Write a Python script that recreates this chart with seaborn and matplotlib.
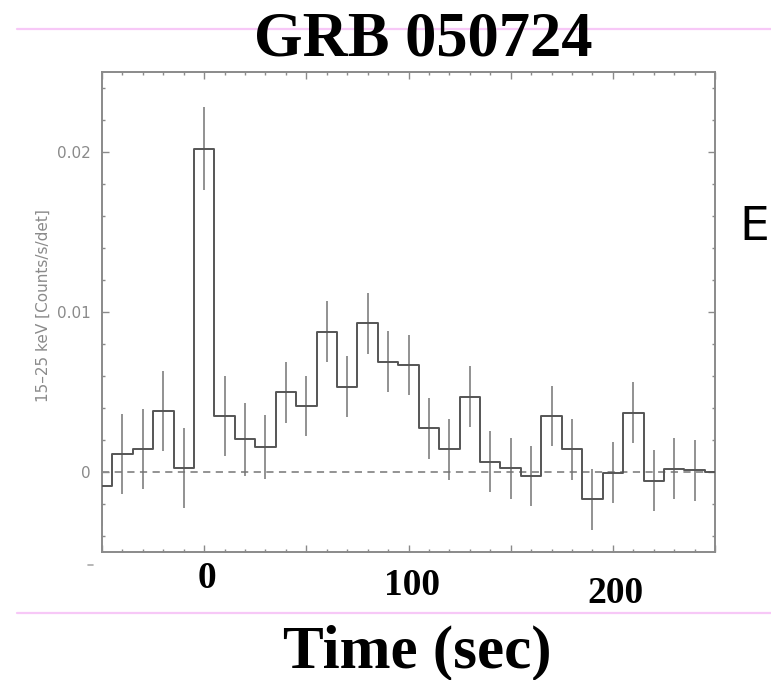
import numpy as np
import pandas as pd
import matplotlib
matplotlib.use("Agg")
import matplotlib.pyplot as plt
from matplotlib.lines import Line2D
from matplotlib.ticker import MultipleLocator
import seaborn as sns

# light curve bins (centre time, s), rate and 1-sigma error
time_bins = [-50, -40, -30, -20, -10, 0, 10, 20, 30, 40, 50, 60, 70, 80, 90, 100,
             110, 120, 130, 140, 150, 160, 170, 180, 190, 200, 210, 220, 230, 240, 250]
rate = [-0.00086, 0.0011, 0.00144, 0.00383, 0.00023, 0.0202, 0.0035, 0.00204, 0.00158,
        0.00498, 0.00413, 0.00877, 0.00533, 0.0093, 0.0069, 0.00669, 0.00273, 0.00142,
        0.0047, 0.00065, 0.00023, -0.00025, 0.0035, 0.00142, -0.0017, -0.00004, 0.0037,
        -0.00054, 0.0002, 0.0001, 0.0]
rate_err = [0.0025, 0.0025, 0.0025, 0.0025, 0.0025, 0.0026, 0.0025, 0.0023, 0.002,
            0.0019, 0.0019, 0.0019, 0.0019, 0.0019, 0.0019, 0.0019, 0.0019, 0.0019,
            0.0019, 0.0019, 0.0019, 0.0019, 0.0019, 0.0019, 0.0019, 0.0019, 0.0019,
            0.0019, 0.0019, 0.0019, 0.0019]

y_ticks = [0, 0.01, 0.02]
y_tick_labels = ["0", "0.01", "0.02"]
x_tick_values = [0, 100, 200]
x_tick_labels = ["0", "100", "200"]

df = pd.DataFrame({"time": time_bins, "rate": rate, "err": rate_err})

sns.set_theme(style="ticks")
plt.rcParams["font.family"] = ["DejaVu Sans"]

fig = plt.figure(figsize=(7.71, 6.8), dpi=100)
fig.patch.set_facecolor("white")
ax = fig.add_axes([0.1323, 0.1882, 0.7951, 0.7059])

grey = "#8a8a8a"
ax.axhline(0, color=grey, lw=1.3, ls=(0, (4, 3)), zorder=1)
ax.errorbar(df["time"], df["rate"], yerr=df["err"], fmt="none",
            ecolor="#747474", elinewidth=1.1, capsize=0, zorder=2)
sns.lineplot(data=df, x="time", y="rate", drawstyle="steps-mid",
             color="#555555", lw=1.4, ax=ax, zorder=3)

ax.set_xlim(-50, 250)
ax.set_ylim(-0.005, 0.025)
ax.xaxis.set_major_locator(MultipleLocator(50))
ax.xaxis.set_minor_locator(MultipleLocator(10))
ax.set_yticks(y_ticks, labels=y_tick_labels)
ax.yaxis.set_minor_locator(MultipleLocator(0.002))
ax.tick_params(which="both", direction="in", top=True, right=True, color=grey, width=1)
ax.tick_params(which="major", length=5)
ax.tick_params(which="minor", length=2.5)
ax.tick_params(axis="x", labelbottom=False)
ax.tick_params(axis="y", labelsize=11, labelcolor=grey, pad=8)
for s in ax.spines.values():
    s.set_color(grey)
    s.set_linewidth(1.4)

ax.set_xlabel("")
ax.set_ylabel("15–25 keV [Counts/s/det]", color=grey, fontsize=11)
ax.yaxis.set_label_coords(-0.083, 0.5125)

# big bold time labels under the box, slightly staggered as on the slide
label_y = [-0.075, -0.0896, -0.106]
for xv, lab, yy in zip(x_tick_values, x_tick_labels, label_y):
    ax.text(xv + 1.5, yy, lab, transform=ax.get_xaxis_transform(), ha="center", va="baseline",
            fontsize=27, fontweight="bold", family="Liberation Serif", color="black")

# slide decorations
pink = "#f7c8f7"
fig.add_artist(Line2D([17 / 771, 1], [1 - 29 / 680] * 2, color=pink, lw=1.6, zorder=1))
fig.add_artist(Line2D([17 / 771, 1], [1 - 613 / 680] * 2, color=pink, lw=1.6, zorder=1))
fig.add_artist(Line2D([88 / 771, 93 / 771], [1 - 565 / 680] * 2, color="#aaaaaa", lw=1.2))

fig.text(0.549, 1 - 55 / 680, "GRB 050724", ha="center", va="baseline", fontsize=45,
         fontweight="bold", family="Liberation Serif", color="black", zorder=5)
fig.text(0.541, 1 - 668 / 680, "Time (sec)", ha="center", va="baseline", fontsize=44,
         fontweight="bold", family="Liberation Serif", color="black", zorder=5)
fig.text(769 / 771, 1 - 240 / 680, "E", ha="right", va="baseline", fontsize=34,
         family="DejaVu Sans", color="black")

fig.savefig("out.png", dpi=100)
